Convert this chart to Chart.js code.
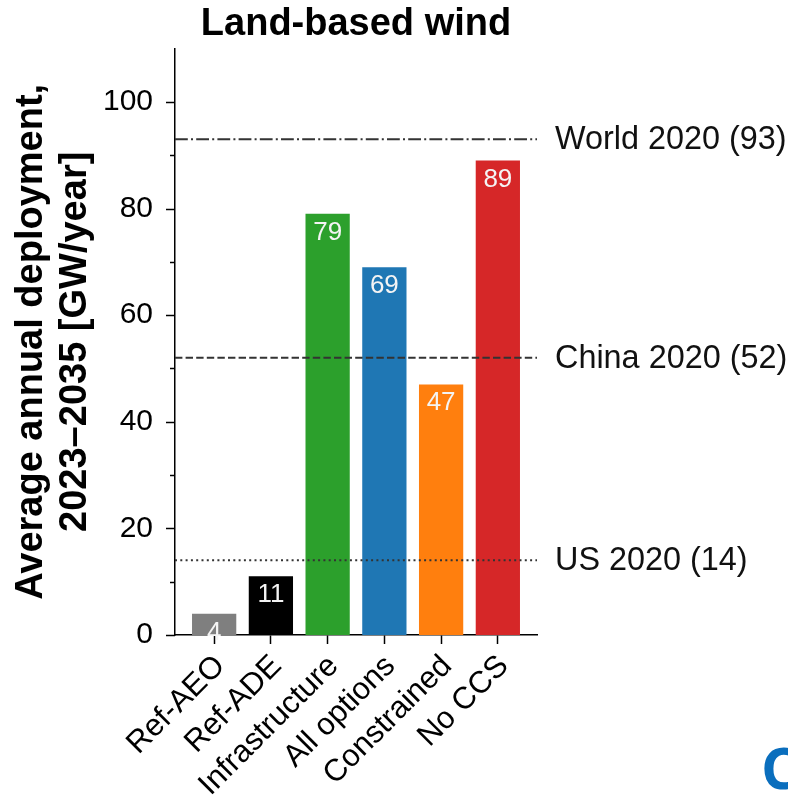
<!DOCTYPE html>
<html>
<head>
<meta charset="utf-8">
<script src="https://cdn.jsdelivr.net/npm/chart.js@4/dist/chart.umd.min.js"></script>
<style>
  html, body { margin: 0; padding: 0; background: #fff; overflow: hidden; }
  #wrap { position: relative; width: 788px; height: 811px; overflow: hidden; }
  #panelTag { position: absolute; left: 761px; top: 738px; font: bold 58px "Open Sans", "Noto Sans", sans-serif;
              line-height: 1; color: #0a6ebd; white-space: nowrap; }
</style>
</head>
<body>
<div id="wrap">
  <canvas id="c" width="788" height="811"></canvas>
  <div id="panelTag">C</div>
</div>
<script>
// Scenario results: average annual land-based wind deployment, 2023–2035 (GW/year)
const scenarios = ['Ref-AEO', 'Ref-ADE', 'Infrastructure', 'All options', 'Constrained', 'No CCS'];
const deployment = [4, 11, 79, 69, 47, 89];
const barColors = ['#7f7f7f', '#000000', '#2ca02c', '#1f77b4', '#ff7f0e', '#d62728'];

// Historical benchmarks drawn as horizontal reference lines
const benchmarkNames = ['World 2020', 'China 2020', 'US 2020'];
const benchmarkValues = [93, 52, 14];

// Y axis ticks
const yMajorTicks = [0, 20, 40, 60, 80, 100];
const yMinorTicks = [10, 30, 50, 70, 90];

const FONT = '"Liberation Sans", Arial, Helvetica, sans-serif';
Chart.defaults.font.family = FONT;
Chart.defaults.color = '#000';

// dash-dot, dashed, dotted
const benchmarkDash = [[12.8, 3.2, 2, 3.2], [7.4, 3.2], [2, 3.3]];

const overlay = {
  id: 'overlay',
  afterDatasetsDraw(chart) {
    const { ctx, chartArea, scales } = chart;
    const y = scales.y;
    // benchmark lines and their labels on the right
    ctx.save();
    benchmarkValues.forEach((v, i) => {
      const py = y.getPixelForValue(v);
      ctx.beginPath();
      ctx.setLineDash(benchmarkDash[i]);
      ctx.lineWidth = 2;
      ctx.strokeStyle = '#333';
      ctx.moveTo(chartArea.left, py);
      ctx.lineTo(chartArea.right, py);
      ctx.stroke();
      ctx.setLineDash([]);
      ctx.fillStyle = '#111';
      ctx.font = '32.4px ' + FONT;
      ctx.textAlign = 'left';
      ctx.textBaseline = 'middle';
      ctx.fillText(benchmarkNames[i] + ' (' + v + ')', chartArea.right + 18, py + 1);
    });
    ctx.restore();
  },
  afterDraw(chart) {
    const { ctx, chartArea, scales } = chart;
    const y = scales.y;
    ctx.save();
    // y tick marks (major and minor)
    ctx.strokeStyle = '#000';
    ctx.lineWidth = 1.5;
    yMajorTicks.forEach(v => {
      const py = Math.round(y.getPixelForValue(v)) + 0.5;
      ctx.beginPath(); ctx.moveTo(chartArea.left - 9, py); ctx.lineTo(chartArea.left, py); ctx.stroke();
    });
    yMinorTicks.forEach(v => {
      const py = Math.round(y.getPixelForValue(v)) + 0.5;
      ctx.beginPath(); ctx.moveTo(chartArea.left - 5, py); ctx.lineTo(chartArea.left, py); ctx.stroke();
    });
    // value labels inside the top of each bar
    const meta = chart.getDatasetMeta(0);
    ctx.fillStyle = '#f4f4f4';
    ctx.font = '26px ' + FONT;
    ctx.textAlign = 'center';
    ctx.textBaseline = 'alphabetic';
    meta.data.forEach((bar, i) => {
      ctx.fillText(String(deployment[i]), bar.x, bar.y + 26);
    });
    ctx.restore();
  }
};

new Chart(document.getElementById('c'), {
  type: 'bar',
  data: {
    datasets: [{
      data: deployment.map((v, i) => ({ x: i, y: v })),
      backgroundColor: barColors,
      borderWidth: 0,
      barPercentage: 0.78,
      categoryPercentage: 1.0
    }]
  },
  options: {
    responsive: false,
    animation: false,
    devicePixelRatio: 1,
    layout: { padding: { left: 0, right: 251, top: 0, bottom: 0 } },
    plugins: {
      legend: { display: false },
      tooltip: { enabled: false },
      title: {
        display: true,
        fullSize: false,
        text: 'Land-based wind',
        color: '#000',
        font: { size: 38, weight: 'bold', family: FONT, lineHeight: 1.2 },
        padding: { top: 2, bottom: 1 }
      }
    },
    scales: {
      x: {
        type: 'linear',
        min: -0.69,
        max: 5.69,
        offset: false,
        afterFit(s) { s.height = 176; },
        afterBuildTicks(s) { s.ticks = scenarios.map((_, i) => ({ value: i })); },
        ticks: {
          autoSkip: false,
          minRotation: 45,
          maxRotation: 45,
          padding: 4,
          labelOffset: 6,
          color: '#000',
          font: { size: 31, family: FONT },
          callback: (v) => scenarios[v]
        },
        grid: { display: true, offset: false, drawOnChartArea: false, drawTicks: true, tickLength: 9, color: '#000', tickWidth: 1.5 },
        border: { display: true, color: '#000', width: 1.5 }
      },
      y: {
        min: 0,
        max: 110,
        afterFit(s) { s.width = 175; },
        afterBuildTicks(s) { s.ticks = yMajorTicks.map(v => ({ value: v })); },
        ticks: { padding: 22, color: '#000', font: { size: 30, family: FONT } },
        grid: { display: false, drawTicks: false },
        border: { display: true, color: '#000', width: 1.5 },
        title: {
          display: true,
          text: ['Average annual deployment,', '2023\u20132035 [GW/year]'],
          color: '#000',
          font: { size: 38, weight: 'bold', family: FONT, lineHeight: 1.17 },
          padding: { top: 9, bottom: 0 }
        }
      }
    }
  },
  plugins: [overlay]
});
</script>
</body>
</html>
